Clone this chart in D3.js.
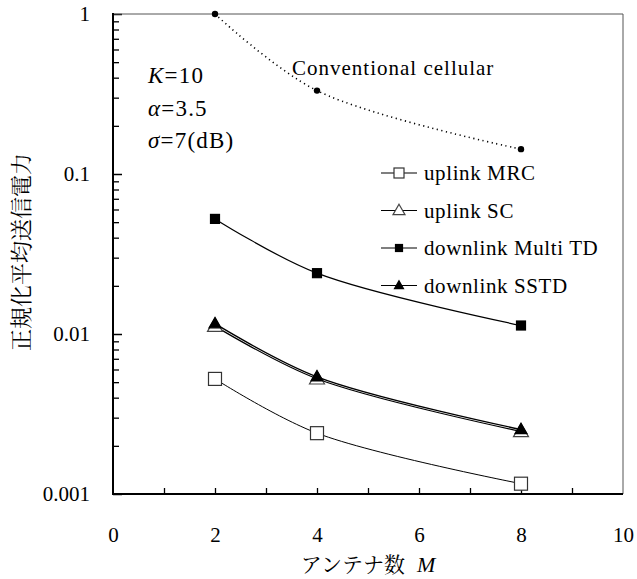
<!DOCTYPE html>
<html><head><meta charset="utf-8">
<script src="https://cdn.jsdelivr.net/npm/d3@7"></script>
</head>
<body style="margin:0;background:#fff"><svg id="c" width="637" height="579" style="display:block" font-family="Liberation Serif"></svg>
<script>
const antennas = [2, 4, 8];
const conventional = [1, 0.332, 0.143];
const uplinkMRC = [0.00524, 0.0024, 0.00116];
const uplinkSC = [0.0112, 0.00525, 0.00246];
const downlinkMultiTD = [0.0524, 0.024, 0.0113];
const downlinkSSTD = [0.0116, 0.0054, 0.00253];
const xTicks = [0, 2, 4, 6, 8, 10];
const yTicks = [0.001, 0.01, 0.1, 1];
const yTickLabels = ["0.001", "0.01", "0.1", "1"];
const legendNames = ["uplink MRC", "uplink SC", "downlink Multi TD", "downlink SSTD"];

const SERIF = '"Liberation Serif"';
const JP = '"Noto Serif CJK JP"';

const svg = d3.select("#c");
const L = 113, R = 623, T = 14, B = 494;
const x = d3.scaleLinear().domain([0, 10]).range([L, R]);
const y = d3.scaleLog().domain([0.001, 1]).range([B, T]);

// minor y ticks
const minorY = [];
for (let d = 0.001; d < 1; d *= 10) for (let k = 2; k <= 9; k++) minorY.push(d * k);
svg.append("g").attr("transform", `translate(${L},0)`)
  .call(d3.axisLeft(y).tickValues(minorY).tickSize(-6).tickFormat(""))
  .call(g => g.select(".domain").remove())
  .call(g => g.selectAll("line").attr("stroke", "#000").attr("stroke-width", 1.3));
svg.append("g").attr("transform", `translate(${L},0)`)
  .call(d3.axisLeft(y).tickValues(yTicks).tickSize(-9).tickPadding(23)
    .tickFormat((d, i) => yTickLabels[i]))
  .attr("font-family", SERIF).attr("font-size", 20)
  .call(g => g.select(".domain").remove())
  .call(g => g.selectAll("line").attr("stroke", "#000").attr("stroke-width", 1.5))
  .call(g => g.selectAll("text").attr("fill", "#000").style("font-size", "21px").style("font-family", SERIF));

// x ticks
svg.append("g").attr("transform", `translate(0,${B})`)
  .call(d3.axisBottom(x).tickValues(d3.range(1, 10)).tickSize(-6).tickFormat(""))
  .call(g => g.select(".domain").remove())
  .call(g => g.selectAll("line").attr("stroke", "#000").attr("stroke-width", 1.3));
svg.append("g").attr("transform", `translate(0,${B})`)
  .call(d3.axisBottom(x).tickValues(xTicks).tickSize(0).tickPadding(33).tickFormat(d3.format("d")))
  .attr("font-family", SERIF).attr("font-size", 20)
  .call(g => g.select(".domain").remove())
  .call(g => g.selectAll("text").attr("fill", "#000").style("font-size", "21px").style("font-family", SERIF));

// frame
svg.append("line").attr("x1", L).attr("x2", R).attr("y1", T).attr("y2", T).attr("stroke", "#555").attr("stroke-width", 1);
svg.append("line").attr("x1", R).attr("x2", R).attr("y1", T).attr("y2", B).attr("stroke", "#555").attr("stroke-width", 1);
svg.append("line").attr("x1", L).attr("x2", L).attr("y1", T - 1).attr("y2", B + 1).attr("stroke", "#000").attr("stroke-width", 2);
svg.append("line").attr("x1", L - 1).attr("x2", R).attr("y1", B).attr("y2", B).attr("stroke", "#000").attr("stroke-width", 2);

const line = d3.line().x((d, i) => x(antennas[i])).y(d => y(d)).curve(d3.curveCatmullRom.alpha(0.5));

// conventional
svg.append("path").attr("d", line(conventional)).attr("fill", "none")
  .attr("stroke", "#000").attr("stroke-width", 1.6).attr("stroke-dasharray", "1.2,3.5");
svg.selectAll(".conv").data(conventional).enter().append("circle")
  .attr("cx", (d, i) => x(antennas[i])).attr("cy", d => y(d)).attr("r", 3.2).attr("fill", "#000");

const series = [
  {v: uplinkMRC, m: "square", fill: "#fff", w: 1},
  {v: uplinkSC, m: "triangle", fill: "#fff", w: 1.2},
  {v: downlinkMultiTD, m: "square", fill: "#000", w: 1.2},
  {v: downlinkSSTD, m: "triangle", fill: "#000", w: 1.4}
];
function marker(g, type, fill, cx, cy, big) {
  if (type === "square") {
    const s = fill === "#fff" ? (big ? 13 : 10) : (big ? 9 : 7);
    g.append("rect").attr("x", cx - s / 2).attr("y", cy - s / 2).attr("width", s).attr("height", s)
      .attr("fill", fill).attr("stroke", fill === "#fff" ? "#333" : "#000").attr("stroke-width", 1.2);
  } else {
    const s = fill === "#fff" ? (big ? 15 : 12) : (big ? 12 : 9);
    const h = s * 0.87;
    g.append("path").attr("d", `M${cx},${cy - h * 0.6}L${cx + s / 2},${cy + h * 0.4}L${cx - s / 2},${cy + h * 0.4}Z`)
      .attr("fill", fill).attr("stroke", fill === "#fff" ? "#444" : "#000").attr("stroke-width", 1.2);
  }
}
series.forEach(s => {
  svg.append("path").attr("d", line(s.v)).attr("fill", "none").attr("stroke", "#000").attr("stroke-width", s.w);
});
series.forEach(s => {
  const g = svg.append("g");
  s.v.forEach((d, i) => marker(g, s.m, s.fill, x(antennas[i]), y(d), true));
});

function txt(sel) { return sel.attr("fill", "#000").style("fill", "#000").attr("font-family", SERIF).style("font-family", SERIF); }

// legend
const lg = svg.append("g");
legendNames.forEach((n, i) => {
  const yy = 173 + i * 37.5;
  lg.append("line").attr("x1", 381).attr("x2", 417).attr("y1", yy).attr("y2", yy).attr("stroke", "#000").attr("stroke-width", 1.2);
  marker(lg, series[i].m, series[i].fill, 399, yy, false);
  txt(lg.append("text")).attr("x", 424).attr("y", yy + 7).style("font-size", "21px")
    .style("letter-spacing", "0.6px").text(n);
});

// annotations
txt(svg.append("text")).attr("x", 292).attr("y", 75).style("font-size", "21px")
  .style("letter-spacing", "1px").text("Conventional cellular");
const ann = [["K", "=10", 83], ["α", "=3.5", 116], ["σ", "=7(dB)", 148]];
ann.forEach(a => {
  const t = txt(svg.append("text")).attr("x", 148).attr("y", a[2]).style("font-size", "23px")
    .style("letter-spacing", "1.2px");
  t.append("tspan").style("font-style", "italic").text(a[0]);
  t.append("tspan").text(a[1]);
});

// axis titles
const xt = txt(svg.append("text")).attr("x", 368).attr("y", 572).attr("text-anchor", "middle").style("font-size", "22px");
xt.append("tspan").style("font-family", JP).style("font-size", "21px").text("アンテナ数");
xt.append("tspan").attr("dx", 12).style("font-style", "italic").text("M");
svg.append("text").attr("fill", "#000").style("fill", "#000").style("font-family", JP)
  .attr("transform", "translate(29,252) rotate(-90)")
  .attr("text-anchor", "middle").style("font-size", "22px").text("正規化平均送信電力");
</script></body></html>
